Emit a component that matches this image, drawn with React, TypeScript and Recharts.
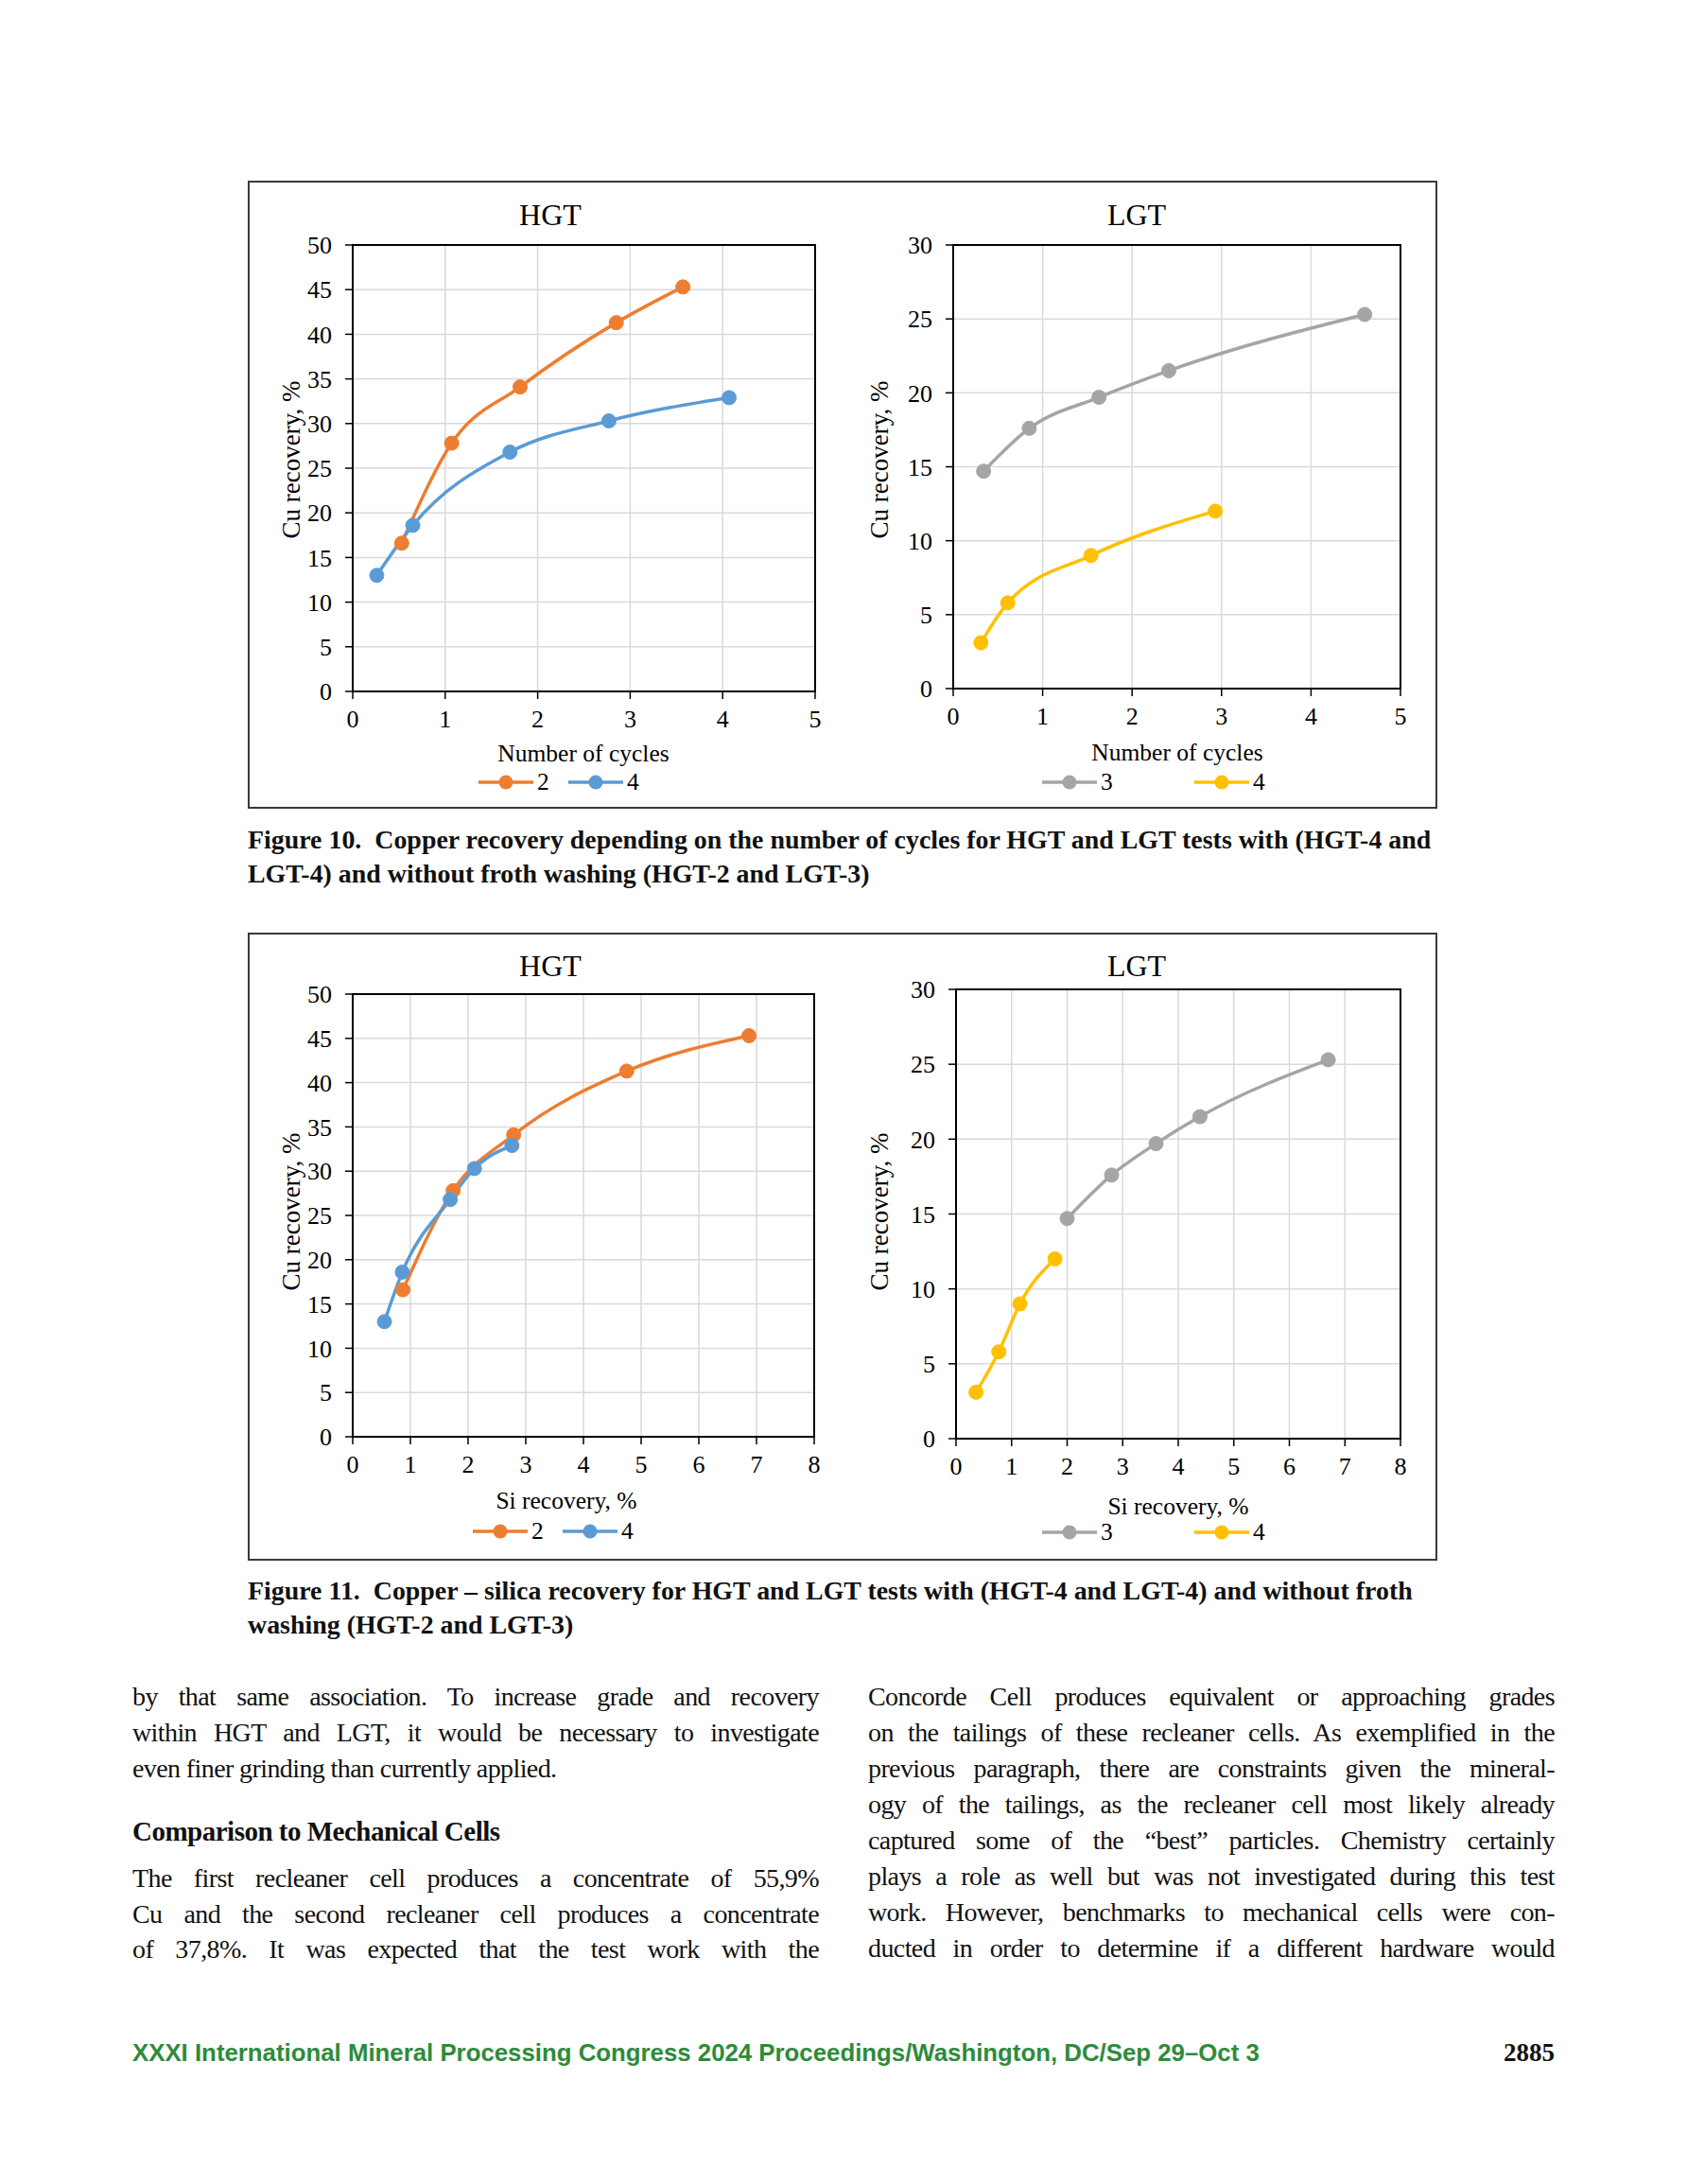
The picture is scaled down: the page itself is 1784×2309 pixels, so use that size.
import React from 'react'
import { LineChart, Line, XAxis, YAxis, CartesianGrid, ReferenceArea } from 'recharts'

// colours (Excel default palette)
const ORANGE = '#ED7D31'
const BLUE = '#5B9BD5'
const GRAY = '#A5A5A5'
const YELLOW = '#FFC000'

const SERIF = '"Liberation Serif", "Times New Roman", serif'

// ticks
const cycleTicks = [0, 1, 2, 3, 4, 5]
const siTicks = [0, 1, 2, 3, 4, 5, 6, 7, 8]
const hgtCuTicks = [0, 5, 10, 15, 20, 25, 30, 35, 40, 45, 50]
const lgtCuTicks = [0, 5, 10, 15, 20, 25, 30]

// Cu recovery, %
const cuHgt2 = [16.6, 27.8, 34.1, 41.3, 45.3]
const cuHgt4 = [13.0, 18.6, 26.8, 30.3, 32.9]
const cuLgt3 = [14.7, 17.6, 19.7, 21.5, 25.3]
const cuLgt4 = [3.1, 5.8, 9.0, 12.0]

// number of cycles
const cyclesHgt2 = [0.53, 1.07, 1.81, 2.85, 3.57]
const cyclesHgt4 = [0.26, 0.65, 1.7, 2.77, 4.07]
const cyclesLgt3 = [0.34, 0.85, 1.63, 2.41, 4.6]
const cyclesLgt4 = [0.31, 0.61, 1.54, 2.93]

// Si recovery, %
const siHgt2 = [0.87, 1.74, 2.79, 4.75, 6.87]
const siHgt4 = [0.55, 0.86, 1.69, 2.11, 2.76]
const siLgt3 = [2.0, 2.8, 3.6, 4.39, 6.7]
const siLgt4 = [0.36, 0.77, 1.15, 1.78]

const zip = (xs: number[], ys: number[]) => xs.map((x, i) => ({ x, y: ys[i] }))

interface Series {
  name: string
  color: string
  data: { x: number; y: number }[]
}

interface PanelCfg {
  plot: { x0: number; y0: number; x1: number; y1: number }
  xTicks: number[]
  yTicks: number[]
  series: Series[]
  title: string
  titlePos: [number, number]
  xLabel: string
  xLabelPos: [number, number]
  yLabelPos: [number, number]
  legendY: number
  legendX: number[]
}

const panels: PanelCfg[] = [
  {
    plot: { x0: 373, y0: 259, x1: 862, y1: 731 },
    xTicks: cycleTicks,
    yTicks: hgtCuTicks,
    series: [
      { name: '2', color: ORANGE, data: zip(cyclesHgt2, cuHgt2) },
      { name: '4', color: BLUE, data: zip(cyclesHgt4, cuHgt4) },
    ],
    title: 'HGT',
    titlePos: [582, 227],
    xLabel: 'Number of cycles',
    xLabelPos: [617, 797],
    yLabelPos: [308, 486],
    legendY: 827,
    legendX: [506, 601],
  },
  {
    plot: { x0: 1008, y0: 259, x1: 1481, y1: 728 },
    xTicks: cycleTicks,
    yTicks: lgtCuTicks,
    series: [
      { name: '3', color: GRAY, data: zip(cyclesLgt3, cuLgt3) },
      { name: '4', color: YELLOW, data: zip(cyclesLgt4, cuLgt4) },
    ],
    title: 'LGT',
    titlePos: [1202, 227],
    xLabel: 'Number of cycles',
    xLabelPos: [1245, 796],
    yLabelPos: [930, 486],
    legendY: 827,
    legendX: [1102, 1263],
  },
  {
    plot: { x0: 373, y0: 1051, x1: 861, y1: 1519 },
    xTicks: siTicks,
    yTicks: hgtCuTicks,
    series: [
      { name: '2', color: ORANGE, data: zip(siHgt2, cuHgt2) },
      { name: '4', color: BLUE, data: zip(siHgt4, cuHgt4) },
    ],
    title: 'HGT',
    titlePos: [582, 1021],
    xLabel: 'Si recovery, %',
    xLabelPos: [599, 1587],
    yLabelPos: [308, 1281],
    legendY: 1619,
    legendX: [500, 595],
  },
  {
    plot: { x0: 1011, y0: 1046, x1: 1481, y1: 1521 },
    xTicks: siTicks,
    yTicks: lgtCuTicks,
    series: [
      { name: '3', color: GRAY, data: zip(siLgt3, cuLgt3) },
      { name: '4', color: YELLOW, data: zip(siLgt4, cuLgt4) },
    ],
    title: 'LGT',
    titlePos: [1202, 1021],
    xLabel: 'Si recovery, %',
    xLabelPos: [1246, 1593],
    yLabelPos: [930, 1281],
    legendY: 1620,
    legendX: [1102, 1263],
  },
]

const textAt = (x: number, y: number, extra: React.CSSProperties = {}): React.CSSProperties => ({
  position: 'absolute',
  left: x,
  top: y,
  transform: 'translate(-50%, -50%)',
  whiteSpace: 'nowrap',
  fontFamily: SERIF,
  lineHeight: 1,
  color: '#000',
  ...extra,
})

const Panel = ({ cfg }: { cfg: PanelCfg }) => {
  const ML = 110
  const MT = 20
  const MR = 30
  const XH = 50
  const { x0, y0, x1, y1 } = cfg.plot
  const pw = x1 - x0
  const ph = y1 - y0
  const xMax = cfg.xTicks[cfg.xTicks.length - 1]
  const yMax = cfg.yTicks[cfg.yTicks.length - 1]
  const tick = { fill: '#000', fontSize: 26, fontFamily: SERIF }

  return (
    <>
      <div style={{ position: 'absolute', left: x0 - ML, top: y0 - MT }}>
        <LineChart width={pw + ML + MR} height={ph + MT + XH} margin={{ top: MT, right: MR, bottom: 0, left: 0 }}>
          <CartesianGrid stroke="#D9D9D9" strokeWidth={1.5} />
          <XAxis
            type="number"
            dataKey="x"
            domain={[0, xMax]}
            ticks={cfg.xTicks}
            interval={0}
            height={XH}
            tick={tick}
            tickSize={8}
            tickMargin={12}
            axisLine={{ stroke: '#000', strokeWidth: 2 }}
            tickLine={{ stroke: '#000', strokeWidth: 1.5 }}
          />
          <YAxis
            type="number"
            domain={[0, yMax]}
            ticks={cfg.yTicks}
            interval={0}
            width={ML}
            tick={tick}
            tickSize={8}
            tickMargin={14}
            axisLine={{ stroke: '#000', strokeWidth: 2 }}
            tickLine={{ stroke: '#000', strokeWidth: 1.5 }}
          />
          <ReferenceArea x1={0} x2={xMax} y1={0} y2={yMax} fill="none" stroke="#000" strokeWidth={2} fillOpacity={0} />
          {cfg.series.map((s) => (
            <Line
              key={s.name}
              data={s.data}
              dataKey="y"
              name={s.name}
              type="monotone"
              stroke={s.color}
              strokeWidth={3.5}
              dot={{ r: 7.5, fill: s.color, stroke: s.color, strokeWidth: 1 }}
              activeDot={false}
              isAnimationActive={false}
            />
          ))}
        </LineChart>
      </div>
      <div style={textAt(cfg.titlePos[0], cfg.titlePos[1], { fontSize: 32 })}>{cfg.title}</div>
      <div style={textAt(cfg.xLabelPos[0], cfg.xLabelPos[1], { fontSize: 25.5 })}>{cfg.xLabel}</div>
      <div style={textAt(cfg.yLabelPos[0], cfg.yLabelPos[1], { fontSize: 27, transform: 'translate(-50%, -50%) rotate(-90deg)' })}>
        Cu recovery, %
      </div>
      {cfg.series.map((s, i) => (
        <div
          key={s.name}
          style={{ position: 'absolute', left: cfg.legendX[i], top: cfg.legendY - 10, height: 20, display: 'flex', alignItems: 'center' }}
        >
          <svg width={58} height={20}>
            <line x1={0} y1={10} x2={58} y2={10} stroke={s.color} strokeWidth={3.5} />
            <circle cx={29} cy={10} r={7.5} fill={s.color} />
          </svg>
          <span style={{ fontFamily: SERIF, fontSize: 25.5, marginLeft: 4, lineHeight: '20px' }}>{s.name}</span>
        </div>
      ))}
    </>
  )
}

const leftLines: [string, boolean][] = [
  ['by that same association. To increase grade and recovery', true],
  ['within HGT and LGT, it would be necessary to investigate', true],
  ['even finer grinding than currently applied.', false],
]
const leftLines2: [string, boolean][] = [
  ['The first recleaner cell produces a concentrate of 55,9%', true],
  ['Cu and the second recleaner cell produces a concentrate', true],
  ['of 37,8%. It was expected that the test work with the', true],
]
const rightLines = [
  'Concorde Cell produces equivalent or approaching grades',
  'on the tailings of these recleaner cells. As exemplified in the',
  'previous paragraph, there are constraints given the mineral-',
  'ogy of the tailings, as the recleaner cell most likely already',
  'captured some of the \u201cbest\u201d particles. Chemistry certainly',
  'plays a role as well but was not investigated during this test',
  'work. However, benchmarks to mechanical cells were con-',
  'ducted in order to determine if a different hardware would',
]

const BodyLine = ({ text, x, y, justify }: { text: string; x: number; y: number; justify: boolean }) => (
  <div
    style={{
      position: 'absolute',
      left: x,
      top: y - 19,
      width: 726,
      height: 38,
      lineHeight: '38px',
      fontFamily: SERIF,
      fontSize: 28,
      letterSpacing: -0.6,
      textAlign: justify ? 'justify' : 'left',
      textAlignLast: justify ? 'justify' : 'left',
      color: '#111',
    }}
  >
    {text}
  </div>
)

const boxStyle = (top: number): React.CSSProperties => ({
  position: 'absolute',
  left: 262,
  top,
  width: 1258,
  height: 664,
  border: '2px solid #3a3a3a',
  boxSizing: 'border-box',
})

const captionStyle = (y: number): React.CSSProperties => ({
  position: 'absolute',
  left: 262,
  top: y - 17,
  lineHeight: '34px',
  fontFamily: SERIF,
  fontWeight: 'bold',
  fontSize: 27.9,
  whiteSpace: 'nowrap',
  color: '#111',
})

export default function App() {
  return (
    <div style={{ position: 'absolute', left: 0, top: 0, width: 1784, height: 2309, background: '#fff', overflow: 'hidden' }}>
      <div style={boxStyle(191)} />
      <div style={boxStyle(986)} />
      {panels.map((p, i) => (
        <Panel key={i} cfg={p} />
      ))}

      <div style={captionStyle(888)}>
        Figure 10.&nbsp; Copper recovery depending on the number of cycles for HGT and LGT tests with (HGT-4 and
      </div>
      <div style={captionStyle(924)}>LGT-4) and without froth washing (HGT-2 and LGT-3)</div>
      <div style={captionStyle(1682)}>
        Figure 11.&nbsp; Copper – silica recovery for HGT and LGT tests with (HGT-4 and LGT-4) and without froth
      </div>
      <div style={captionStyle(1718)}>washing (HGT-2 and LGT-3)</div>

      {leftLines.map(([t, j], i) => (
        <BodyLine key={'l' + i} text={t} x={140} y={1794 + i * 38} justify={j} />
      ))}
      <div
        style={{
          position: 'absolute',
          left: 140,
          top: 1936 - 19,
          lineHeight: '38px',
          fontFamily: SERIF,
          fontWeight: 'bold',
          fontSize: 29,
          letterSpacing: -0.5,
          color: '#111',
          whiteSpace: 'nowrap',
        }}
      >
        Comparison to Mechanical Cells
      </div>
      {leftLines2.map(([t, j], i) => (
        <BodyLine key={'m' + i} text={t} x={140} y={1986 + i * 37.5} justify={j} />
      ))}
      {rightLines.map((t, i) => (
        <BodyLine key={'r' + i} text={t} x={918} y={1794 + i * 38} justify />
      ))}

      <div
        style={{
          position: 'absolute',
          left: 140,
          top: 2170 - 15,
          lineHeight: '30px',
          fontFamily: '"Liberation Sans", Arial, sans-serif',
          fontWeight: 'bold',
          fontSize: 25.8,
          color: '#2E8B3A',
          whiteSpace: 'nowrap',
        }}
      >
        XXXI International Mineral Processing Congress 2024 Proceedings/Washington, DC/Sep 29–Oct 3
      </div>
      <div
        style={{
          position: 'absolute',
          right: 1784 - 1644,
          top: 2170 - 15,
          lineHeight: '30px',
          fontFamily: SERIF,
          fontWeight: 'bold',
          fontSize: 27,
          color: '#111',
        }}
      >
        2885
      </div>
    </div>
  )
}
